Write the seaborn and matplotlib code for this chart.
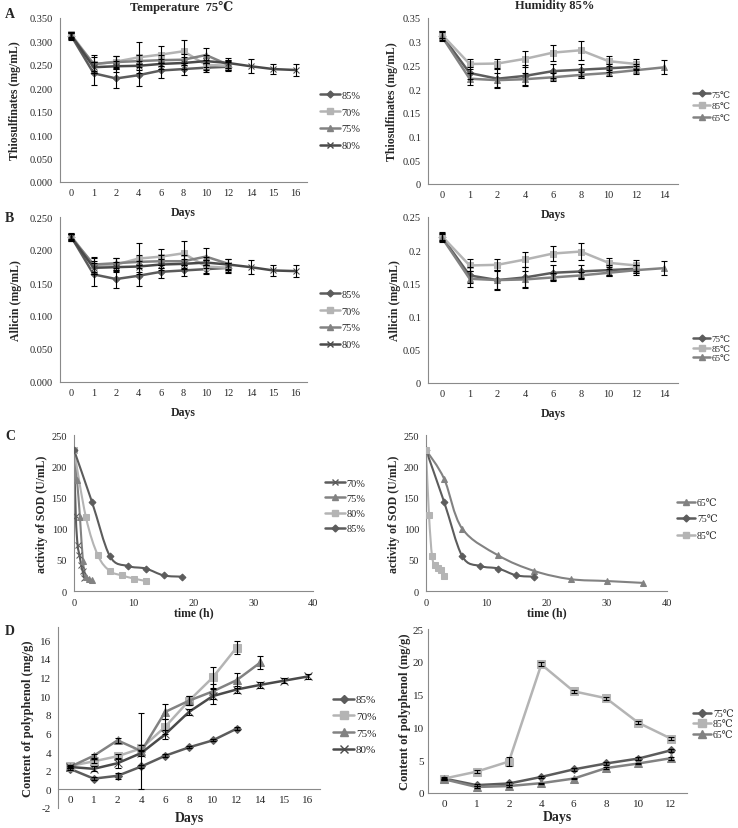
import numpy as np
import matplotlib
matplotlib.use("Agg")
import matplotlib.pyplot as plt
from matplotlib.path import Path
from matplotlib.patches import PathPatch
from matplotlib.lines import Line2D
from matplotlib.ticker import FuncFormatter
import seaborn as sns

# ---- categories ----
days_t = [0, 1, 2, 4, 6, 8, 10, 12, 14, 15, 16]   # Temperature 75C panels
days_h = [0, 1, 2, 4, 6, 8, 10, 12, 14]           # Humidity 85% panels (A, B)
days_ph = [0, 1, 2, 4, 6, 8, 10, 12]              # Humidity 85% polyphenol

# ---- A: thiosulfinates (mg/mL) ----
thio_t_85 = [0.312, 0.232, 0.221, 0.228, 0.238, 0.241, 0.244, 0.246]
thio_t_70 = [0.315, 0.251, 0.257, 0.266, 0.272, 0.279, 0.250, 0.248]
thio_t_75 = [0.311, 0.252, 0.256, 0.258, 0.260, 0.261, 0.271, 0.250]
thio_t_80 = [0.313, 0.245, 0.247, 0.248, 0.252, 0.254, 0.258, 0.254, 0.247, 0.241, 0.239]
thio_t_85_err = [0.008, 0.025, 0.020, 0.023, 0.015, 0.012, 0.010, 0.010]
thio_t_70_err = [0.006, 0.015, 0.012, 0.033, 0.018, 0.025, 0.010, 0.010]
thio_t_75_err = [0.006, 0.020, 0.012, 0.012, 0.012, 0.012, 0.016, 0.010]
thio_t_80_err = [0.006, 0.012, 0.012, 0.010, 0.010, 0.012, 0.012, 0.010, 0.015, 0.010, 0.012]

thio_h_75 = [0.313, 0.234, 0.222, 0.228, 0.238, 0.241, 0.244, 0.247]
thio_h_85 = [0.315, 0.253, 0.254, 0.264, 0.277, 0.282, 0.259, 0.253]
thio_h_65 = [0.311, 0.222, 0.219, 0.221, 0.225, 0.230, 0.234, 0.240, 0.246]
thio_h_75_err = [0.010, 0.012, 0.020, 0.022, 0.015, 0.013, 0.008, 0.006]
thio_h_85_err = [0.008, 0.011, 0.010, 0.017, 0.017, 0.020, 0.010, 0.010]
thio_h_65_err = [0.010, 0.013, 0.015, 0.012, 0.008, 0.006, 0.007, 0.008, 0.015]

# ---- B: allicin (mg/mL) ----
alli_t_85 = [0.220, 0.163, 0.156, 0.161, 0.167, 0.169, 0.171, 0.173]
alli_t_70 = [0.221, 0.176, 0.178, 0.187, 0.190, 0.195, 0.175, 0.173]
alli_t_75 = [0.219, 0.178, 0.180, 0.182, 0.183, 0.183, 0.190, 0.179]
alli_t_80 = [0.219, 0.173, 0.174, 0.175, 0.178, 0.179, 0.181, 0.178, 0.174, 0.169, 0.168]
alli_t_85_err = [0.005, 0.017, 0.014, 0.016, 0.010, 0.008, 0.007, 0.007]
alli_t_70_err = [0.005, 0.012, 0.010, 0.023, 0.012, 0.018, 0.010, 0.008]
alli_t_75_err = [0.005, 0.012, 0.008, 0.010, 0.010, 0.010, 0.013, 0.008]
alli_t_80_err = [0.005, 0.010, 0.008, 0.008, 0.008, 0.008, 0.008, 0.008, 0.011, 0.008, 0.009]

alli_h_75 = [0.220, 0.162, 0.155, 0.159, 0.166, 0.168, 0.170, 0.172]
alli_h_85 = [0.221, 0.177, 0.178, 0.186, 0.195, 0.198, 0.181, 0.177]
alli_h_65 = [0.219, 0.157, 0.155, 0.156, 0.159, 0.162, 0.166, 0.170, 0.173]
alli_h_75_err = [0.006, 0.012, 0.015, 0.016, 0.011, 0.010, 0.007, 0.006]
alli_h_85_err = [0.006, 0.009, 0.008, 0.012, 0.011, 0.013, 0.007, 0.008]
alli_h_65_err = [0.006, 0.012, 0.014, 0.012, 0.006, 0.005, 0.005, 0.007, 0.011]

# ---- C: SOD activity (U/mL) vs time (h) ----
sod_t_70_x = [0, 0.3, 0.6, 0.9, 1.2, 1.45, 1.7]
sod_t_70 = [226, 120, 74, 58, 42, 32, 21]
sod_t_75_x = [0, 0.5, 1, 1.5, 2, 2.5, 3]
sod_t_75 = [226, 178, 118, 48, 22, 20, 17]
sod_t_80_x = [0, 2, 4, 6, 8, 10, 12]
sod_t_80 = [226, 118, 57, 32, 25, 20, 16]
sod_t_85_x = [0, 3, 6, 9, 12, 15, 18]
sod_t_85 = [226, 143, 56, 40, 36, 25, 23]

sod_h_65_x = [0, 3, 6, 12, 18, 24, 30, 36]
sod_h_65 = [226, 180, 100, 57, 32, 19, 16, 13]
sod_h_75_x = [0, 3, 6, 9, 12, 15, 18]
sod_h_75 = [226, 143, 56, 40, 36, 25, 23]
sod_h_85_x = [0, 0.5, 1, 1.5, 2, 2.5, 3]
sod_h_85 = [226, 121, 56, 41, 37, 34, 24]

# ---- D: polyphenol (mg/g) ----
poly_t_85 = [2.2, 1.15, 1.45, 2.45, 3.6, 4.5, 5.25, 6.5]
poly_t_70 = [2.5, 3.0, 3.55, 4.4, 6.7, 9.5, 12.0, 15.2]
poly_t_75 = [2.4, 3.6, 5.25, 4.1, 8.3, 9.5, 10.5, 11.7, 13.6]
poly_t_80 = [2.4, 2.2, 2.8, 3.9, 5.9, 8.3, 10.0, 10.7, 11.2, 11.65, 12.1]
poly_t_85_err = [0.1, 0.15, 0.35, 0.15, 0.15, 0.1, 0.1, 0.15]
poly_t_70_err = [0.15, 0.2, 0.2, 0.3, 0.8, 0.5, 1.1, 0.7]
poly_t_75_err = [0.15, 0.2, 0.3, 4.1, 0.8, 0.5, 0.8, 0.8, 0.7]
poly_t_80_err = [0.15, 0.25, 0.5, 0.3, 0.5, 0.3, 0.8, 0.35, 0.35, 0.3, 0.3]

poly_h_75 = [2.2, 1.2, 1.45, 2.45, 3.6, 4.5, 5.25, 6.5]
poly_h_85 = [2.2, 3.25, 4.8, 19.6, 15.5, 14.45, 10.7, 8.3]
poly_h_65 = [2.1, 0.92, 1.06, 1.5, 2.2, 3.8, 4.5, 5.3]
poly_h_75_err = [0.1, 0.2, 0.2, 0.2, 0.2, 0.2, 0.2, 0.2]
poly_h_85_err = [0.2, 0.2, 0.7, 0.3, 0.2, 0.2, 0.2, 0.2]
poly_h_65_err = [0.1, 0.1, 0.1, 0.1, 0.1, 0.1, 0.1, 0.2]

# ---- style ----
DARK = "#5c5c5c"
LIGHT = "#b4b4b4"
MID = "#828282"
DARKER = "#4a4a4a"
AXIS = "#8a8a8a"

sns.set_theme(style="white")
plt.rcParams["font.family"] = ["Liberation Serif", "DejaVu Serif", "DejaVu Sans"]

W, H = 738, 829
fig = plt.figure(figsize=(W / 100, H / 100), dpi=100)


def px_axes(left, top, right, bottom):
    ax = fig.add_axes([left / W, 1 - bottom / H, (right - left) / W, (bottom - top) / H])
    ax.patch.set_alpha(0)
    return ax


def style_axes(ax):
    for s in ["top", "right"]:
        ax.spines[s].set_visible(False)
    for s in ["left", "bottom"]:
        ax.spines[s].set_color(AXIS)
        ax.spines[s].set_linewidth(0.8)
    ax.tick_params(axis="both", which="both", direction="out", color=AXIS, width=0.8)
    ax.tick_params(axis="y", length=3, pad=2)


def add_legend(ax, entries, x, y, fs, spacing):
    handles = [Line2D([], [], color=c, marker=m, markersize=ms, markeredgecolor=c, lw=1.8)
               for _, c, m, ms in entries]
    labels = [e[0] for e in entries]
    ax.legend(handles, labels, loc="center left", bbox_to_anchor=(x / W, 1 - y / H),
              bbox_transform=fig.transFigure, frameon=False, fontsize=fs,
              handlelength=1.9, handletextpad=0.15, labelspacing=spacing,
              borderpad=0, borderaxespad=0, numpoints=1)


def cat_panel(ax, cats, series, ylim, yticks, yfmt, ylabel, lab_x, xlab_y, fs=7.5):
    pos = np.arange(len(cats))
    for label, vals, errs, color, marker, ms in series:
        x = pos[:len(vals)]
        sns.lineplot(x=x, y=vals, color=color, marker=marker, markersize=ms,
                     markeredgecolor=color, linewidth=1.8, ax=ax, legend=False)
        ax.errorbar(x, vals, yerr=errs, fmt="none", ecolor="black", elinewidth=0.8,
                    capsize=2, capthick=0.8, zorder=4)
    ax.set_xlim(-0.5, len(cats) - 0.5)
    ax.set_ylim(*ylim)
    ax.set_yticks(yticks)
    ax.yaxis.set_major_formatter(FuncFormatter(lambda v, p: yfmt % v))
    ax.set_xticks(pos)
    ax.set_xticklabels([str(c) for c in cats])
    ax.set_xticks(np.arange(len(cats) + 1) - 0.5, minor=True)
    style_axes(ax)
    ax.tick_params(axis="x", which="major", length=0, pad=4, labelsize=fs)
    ax.tick_params(axis="x", which="minor", length=3)
    ax.tick_params(axis="y", labelsize=fs)
    ax.set_ylabel(ylabel, fontweight="bold", fontsize=8.5)
    ax.yaxis.set_label_coords(lab_x, 0.5)
    ax.set_xlabel("Days", fontweight="bold", fontsize=8.5)
    ax.xaxis.set_label_coords(0.5, xlab_y)


def bezier_path(xs, ys):
    pts = np.column_stack([xs, ys]).astype(float)
    n = len(pts)
    verts = [pts[0]]
    codes = [Path.MOVETO]
    for i in range(n - 1):
        p0 = pts[i - 1] if i > 0 else pts[i]
        p1 = pts[i]
        p2 = pts[i + 1]
        p3 = pts[i + 2] if i + 2 < n else pts[i + 1]
        verts += [p1 + (p2 - p0) / 6, p2 - (p3 - p1) / 6, p2]
        codes += [Path.CURVE4] * 3
    return Path(verts, codes)


def sod_panel(ax, series, lab_x):
    for label, xs, ys, color, marker, ms in series:
        ax.add_patch(PathPatch(bezier_path(xs, ys), facecolor="none", edgecolor=color,
                               lw=1.5, zorder=2))
        sns.lineplot(x=xs, y=ys, color=color, marker=marker, markersize=ms,
                     markeredgecolor=color, linestyle="", ax=ax, legend=False, zorder=3)
    ax.set_xlim(0, 40)
    ax.set_ylim(0, 250)
    ax.set_xticks([0, 10, 20, 30, 40])
    ax.set_yticks([0, 50, 100, 150, 200, 250])
    style_axes(ax)
    ax.tick_params(axis="x", length=3, pad=2, labelsize=7.5)
    ax.tick_params(axis="y", labelsize=7.5)
    ax.set_ylabel("activity of SOD (U/mL)", fontweight="bold", fontsize=8.5)
    ax.yaxis.set_label_coords(lab_x, 0.5)
    ax.set_xlabel("time (h)", fontweight="bold", fontsize=8.5)
    ax.xaxis.set_label_coords(0.5, -0.1)


# ---- A ----
ax = px_axes(60, 19, 307, 183)
cat_panel(ax, days_t,
          [("85%", thio_t_85, thio_t_85_err, DARK, "D", 3.5),
           ("70%", thio_t_70, thio_t_70_err, LIGHT, "s", 5),
           ("75%", thio_t_75, thio_t_75_err, MID, "^", 5),
           ("80%", thio_t_80, thio_t_80_err, DARKER, "x", 5)],
          (0, 0.35), np.arange(0, 0.351, 0.05), "%.3f", "Thiosulfinates (mg/mL)", -0.158, -0.146)
add_legend(ax, [("85%", DARK, "D", 3.5), ("70%", LIGHT, "s", 5), ("75%", MID, "^", 5),
                ("80%", DARKER, "x", 5)], 320, 121.5, 7.5, 0.71)

ax = px_axes(428, 19, 678, 185)
cat_panel(ax, days_h,
          [("75℃", thio_h_75, thio_h_75_err, DARK, "D", 3.5),
           ("85℃", thio_h_85, thio_h_85_err, LIGHT, "s", 5),
           ("65℃", thio_h_65, thio_h_65_err, MID, "^", 5)],
          (0, 0.35), np.arange(0, 0.351, 0.05), "%g", "Thiosulfinates (mg/mL)", -0.122, -0.146)
add_legend(ax, [("75℃", DARK, "D", 3.5), ("85℃", LIGHT, "s", 5), ("65℃", MID, "^", 5)],
           693, 107, 6.5, 0.36)

# ---- B ----
ax = px_axes(60, 218, 307, 383)
cat_panel(ax, days_t,
          [("85%", alli_t_85, alli_t_85_err, DARK, "D", 3.5),
           ("70%", alli_t_70, alli_t_70_err, LIGHT, "s", 5),
           ("75%", alli_t_75, alli_t_75_err, MID, "^", 5),
           ("80%", alli_t_80, alli_t_80_err, DARKER, "x", 5)],
          (0, 0.25), np.arange(0, 0.251, 0.05), "%.3f", "Allicin (mg/mL)", -0.152, -0.145)
add_legend(ax, [("85%", DARK, "D", 3.5), ("70%", LIGHT, "s", 5), ("75%", MID, "^", 5),
                ("80%", DARKER, "x", 5)], 320, 320.5, 7.5, 0.71)

ax = px_axes(428, 218, 678, 384)
cat_panel(ax, days_h,
          [("75℃", alli_h_75, alli_h_75_err, DARK, "D", 3.5),
           ("85℃", alli_h_85, alli_h_85_err, LIGHT, "s", 5),
           ("65℃", alli_h_65, alli_h_65_err, MID, "^", 5)],
          (0, 0.25), np.arange(0, 0.251, 0.05), "%g", "Allicin (mg/mL)", -0.11, -0.145)
add_legend(ax, [("75℃", DARK, "D", 3.5), ("85℃", LIGHT, "s", 5), ("65℃", MID, "^", 5)],
           693, 349.5, 6.5, 0.1)

# ---- C ----
ax = px_axes(74, 436, 313, 592)
sod_panel(ax, [("70%", sod_t_70_x, sod_t_70, DARK, "x", 4),
               ("75%", sod_t_75_x, sod_t_75, MID, "^", 4),
               ("80%", sod_t_80_x, sod_t_80, LIGHT, "s", 5),
               ("85%", sod_t_85_x, sod_t_85, DARK, "D", 3.5)], -0.107)
add_legend(ax, [("70%", DARK, "x", 4), ("75%", MID, "^", 4), ("80%", LIGHT, "s", 5),
                ("85%", DARK, "D", 3.5)], 325, 507, 7.5, 0.57)

ax = px_axes(426, 436, 667, 592)
sod_panel(ax, [("65℃", sod_h_65_x, sod_h_65, MID, "^", 4),
               ("75℃", sod_h_75_x, sod_h_75, DARK, "D", 3.5),
               ("85℃", sod_h_85_x, sod_h_85, LIGHT, "s", 5)], -0.106)
add_legend(ax, [("65℃", MID, "^", 4), ("75℃", DARK, "D", 3.5), ("85℃", LIGHT, "s", 5)],
           677, 520, 7, 0.78)

# ---- D ----
ax = px_axes(58, 628, 320, 809)
cat_panel(ax, days_t,
          [("85%", poly_t_85, poly_t_85_err, DARK, "D", 4),
           ("70%", poly_t_70, poly_t_70_err, LIGHT, "s", 6),
           ("75%", poly_t_75, poly_t_75_err, MID, "^", 6),
           ("80%", poly_t_80, poly_t_80_err, DARKER, "x", 6)],
          (-2, 17.4), np.arange(-2, 16.1, 2), "%g", "Content of polyphenol (mg/g)", -0.092, -0.017,
          fs=8)
ax.spines["bottom"].set_position(("data", 0))
ax.set_ylabel("Content of polyphenol (mg/g)", fontweight="bold", fontsize=9)
ax.set_xlabel("Days", fontweight="bold", fontsize=10)
add_legend(ax, [("85%", DARK, "D", 4), ("70%", LIGHT, "s", 6), ("75%", MID, "^", 6),
                ("80%", DARKER, "x", 6)], 333, 725.5, 8, 0.62)

ax = px_axes(428, 630, 687, 794)
cat_panel(ax, days_ph,
          [("75℃", poly_h_75, poly_h_75_err, DARK, "D", 4),
           ("85℃", poly_h_85, poly_h_85_err, LIGHT, "s", 6),
           ("65℃", poly_h_65, poly_h_65_err, MID, "^", 6)],
          (0, 25), np.arange(0, 25.1, 5), "%g", "Content of polyphenol (mg/g)", -0.066, -0.104,
          fs=8)
ax.tick_params(axis="y", pad=1, length=2)
ax.set_ylabel("Content of polyphenol (mg/g)", fontweight="bold", fontsize=9)
ax.set_xlabel("Days", fontweight="bold", fontsize=10)
add_legend(ax, [("75℃", DARK, "D", 4), ("85℃", LIGHT, "s", 6), ("65℃", MID, "^", 6)],
           693, 725, 7, 0.16)

# ---- titles and panel letters ----
fig.text(182 / W, 1 - 8 / H, "Temperature  75℃", ha="center", va="center",
         fontweight="bold", fontsize=9)
fig.text(555 / W, 1 - 6 / H, "Humidity 85%", ha="center", va="center",
         fontweight="bold", fontsize=9)
for letter, y in [("A", 14), ("B", 218), ("C", 437), ("D", 632)]:
    fig.text(5 / W, 1 - y / H, letter, ha="left", va="center", fontweight="bold", fontsize=10)

fig.savefig("out.png", dpi=100)
